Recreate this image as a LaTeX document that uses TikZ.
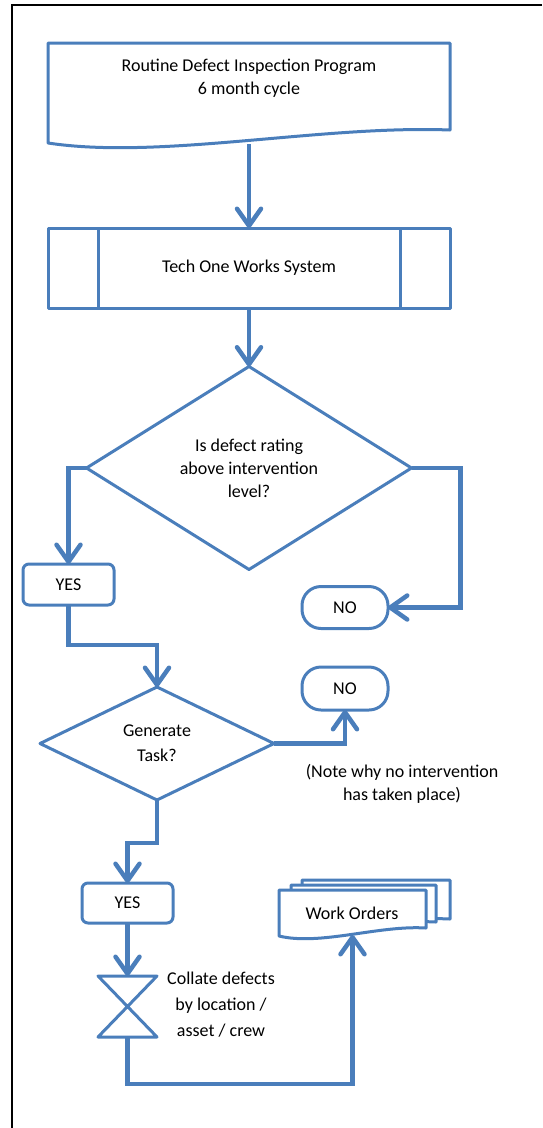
\documentclass[tikz,border=0pt]{standalone}
\usepackage{fontspec}
\setmainfont{Carlito}
\usetikzlibrary{arrows.meta,shapes.geometric,calc}
\definecolor{fb}{HTML}{4A7EBB}
\begin{document}
\begin{tikzpicture}[x=1pt,y=-1pt,
  every node/.style={font=\fontsize{18}{23}\selectfont, align=center, inner sep=0pt, outer sep=0pt},
  shp/.style={draw=fb, line width=3pt, line join=round},
  conn/.style={draw=fb, line width=4.5pt, -{Straight Barb[length=17pt,width=24pt,round]}},
  dia/.style={shp, diamond, shape aspect=1.6},
  yesbox/.style={shp, rectangle, rounded corners=6pt, minimum width=91pt, minimum height=41pt},
  term/.style={shp, rectangle, rounded corners=19pt, minimum width=86pt, minimum height=42pt},
  docfill/.style={shp, fill=white}
]
\useasboundingbox (0,0) rectangle (542,1128);
% frame
\draw[black, line width=2pt] (542,5) -- (12,5) -- (12,1128);

% document 1
\draw[shp] (48,43) -- (450,43) -- (450,130) .. controls (320,125) and (160,160) .. (48,143) -- cycle;
\node (doc1) at (249,78.5) {Routine Defect Inspection Program\\6 month cycle};
\coordinate (doc1b) at (249,144);

% predefined process
\node[shp, rectangle, minimum width=402pt, minimum height=80pt] (proc) at (249,268) {Tech One Works System};
\draw[shp] ($(proc.north west)+(50,0)$) -- ($(proc.south west)+(50,0)$);
\draw[shp] ($(proc.north east)+(-50,0)$) -- ($(proc.south east)+(-50,0)$);

% decision 1
\node[dia, minimum width=325pt, minimum height=203pt] (d1) at (249,468) {Is defect rating\\above intervention\\level?};
\node[yesbox] (yes1) at (68.5,584.5) {YES};
\node[term] (no1) at (345,607.5) {NO};

% decision 2
\node[dia, shape aspect=2, minimum width=234pt, minimum height=113pt, font=\fontsize{18}{25}\selectfont] (d2) at (157,743.5) {Generate\\Task?};
\node[term, minimum height=43pt] (no2) at (345,688.5) {NO};
\node (note) at (402,784) {(Note why no intervention\\has taken place)};
\node[yesbox, minimum height=40pt] (yes2) at (127.5,903) {YES};

% collate
\node[minimum width=59pt, minimum height=61pt] (coll) at (127.5,1006.5) {};
\draw[shp] (coll.north west) -- (coll.north east) -- (coll.south west) -- (coll.south east) -- cycle;
\node[font=\fontsize{18}{26}\selectfont] (colltxt) at (221,1005) {Collate defects\\by location /\\asset / crew};

% work orders (multi-document)
\draw[docfill] (302,880) -- (450,880) -- (450,919) .. controls (402,916) and (344,937) .. (302,927) -- cycle;
\draw[docfill] (291,885) -- (436,885) -- (436,922) .. controls (389,919) and (332,940) .. (291,930) -- cycle;
\draw[docfill] (279,890) -- (426,890) -- (426,928) .. controls (378.5,925) and (320,946) .. (279,936) -- cycle;
\node[minimum width=147pt, minimum height=45pt] (wo) at (352.5,912.5) {};
\node at (352,913) {Work Orders};

% connectors
\draw[conn] (doc1b) -- (proc.north);
\draw[conn] (proc.south) -- (d1.north);
\draw[conn] (d1.west) -| (yes1.north);
\draw[conn] (d1.east) -- ++(49,0) |- (no1.east);
\draw[conn] (yes1.south) -- ++(0,40) -| (d2.north);
\draw[conn] (d2.east) -| (no2.south);
\draw[conn] (d2.south) -- ++(0,43) -| (yes2.north);
\draw[conn] (yes2.south) -- (coll.north);
\draw[conn] (coll.south) -- ++(0,47) -| (wo.south);
\end{tikzpicture}
\end{document}
